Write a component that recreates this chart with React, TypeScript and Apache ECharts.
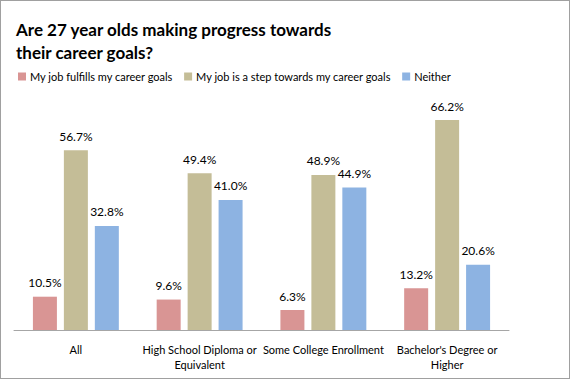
import React, { useEffect, useRef } from "react";
import * as echarts from "echarts";

const categories = ["All", "High School Diploma or Equivalent", "Some College Enrollment", "Bachelor's Degree or Higher"];
const categoryLabels = ["All", "High School Diploma or\nEquivalent", "Some College Enrollment", "Bachelor's Degree or\nHigher"];
const seriesNames = ["My job fulfills my career goals", "My job is a step towards my career goals", "Neither"];
const fulfills = [10.5, 9.6, 6.3, 13.2];
const step = [56.7, 49.4, 48.9, 66.2];
const neither = [32.8, 41.0, 44.9, 20.6];
const colors = ["#d99594", "#c4bd97", "#8db3e2"];

const FONT = "Lato, 'Open Sans', sans-serif";

export default function App() {
  const ref = useRef<HTMLDivElement>(null);
  useEffect(() => {
    document.body.style.margin = "0";
    const chart = echarts.init(ref.current!, null, { renderer: "svg" });
    const values = [fulfills, step, neither];
    chart.setOption({
      animation: false,
      backgroundColor: "#ffffff",
      textStyle: { fontFamily: FONT },
      title: {
        text: "Are 27 year olds making progress towards\ntheir career goals?",
        left: 15,
        top: 17,
        padding: 0,
        textStyle: { fontFamily: FONT, fontSize: 17, fontWeight: "bold", color: "#000", lineHeight: 23 },
      },
      legend: {
        data: seriesNames,
        left: 12,
        top: 65,
        itemWidth: 8,
        itemHeight: 8,
        itemGap: 11,
        icon: "rect",
        textStyle: { fontFamily: FONT, fontSize: 11, color: "#000", padding: [0, 0, 0, -1] },
      },
      grid: { left: 13, right: 60, top: 107, bottom: 48, containLabel: false },
      xAxis: {
        type: "category",
        data: categories,
        axisTick: { show: false },
        axisLine: { lineStyle: { color: "#a6a6a6", width: 1 } },
        axisLabel: {
          interval: 0,
          color: "#000",
          fontFamily: FONT,
          fontSize: 11,
          lineHeight: 15,
          margin: 12,
          formatter: (_v: string, i: number) => categoryLabels[i],
        },
      },
      yAxis: { type: "value", min: 0, max: 70, show: false, splitLine: { show: false } },
      series: seriesNames.map((name, i) => ({
        name,
        type: "bar",
        data: values[i],
        barWidth: 24,
        barGap: "29%",
        itemStyle: { color: colors[i] },
        label: {
          show: true,
          position: "top",
          distance: 8,
          color: "#000",
          fontFamily: FONT,
          fontSize: 12,
          formatter: (p: any) => p.value.toFixed(1) + "%",
        },
      })),
    });
    return () => chart.dispose();
  }, []);
  return (
    <div
      style={{
        position: "absolute",
        left: 0,
        top: 0,
        width: 570,
        height: 379,
        boxSizing: "border-box",
        border: "1px solid #a0a0a0",
        background: "#fff",
      }}
    >
      <div ref={ref} style={{ width: 568, height: 377 }} />
    </div>
  );
}
